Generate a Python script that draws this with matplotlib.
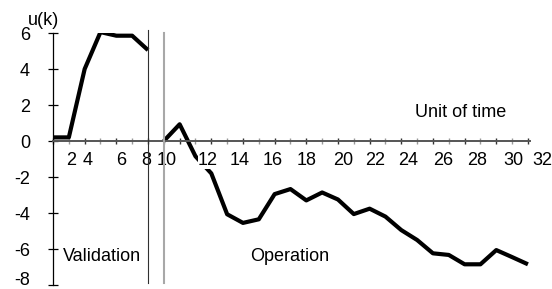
import matplotlib
matplotlib.use('Agg')
import matplotlib.pyplot as plt
from matplotlib.transforms import ScaledTranslation

plt.rcParams['font.family'] = ['Liberation Sans', 'DejaVu Sans']

# validation samples k = 1..7, operation samples k = 8..31
val_k = [1, 2, 3, 4, 5, 6, 7]
val_u = [0.2, 0.2, 4.0, 6.05, 5.85, 5.85, 5.05]

op_k = list(range(8, 32))
op_u = [0.0, 0.93, -0.85, -1.8, -4.07, -4.55, -4.35, -2.95, -2.67, -3.3,
        -2.86, -3.25, -4.06, -3.76, -4.2, -4.95, -5.5, -6.24, -6.33, -6.85,
        -6.85, -6.06, -6.45, -6.85]

y_ticks = [-8, -6, -4, -2, 0, 2, 4, 6]
x_labels = ['2', '4', '6', '8', '10', '12', '14', '16', '18', '20', '22',
            '24', '26', '28', '30', '32']
# where the labels sit along the sample axis in the original
x_label_pos = [2.14, 3.21, 5.29, 6.87, 8.2, 10.79, 12.81, 14.89, 17.04,
               19.32, 21.34, 23.43, 25.64, 27.79, 30.06, 31.89]

fs = 13

fig = plt.figure(figsize=(5.52, 2.89), dpi=100)
ax = fig.add_axes([53 / 552, 1 - 285 / 289, 477 / 552, 252 / 289])

ax.plot(val_k, val_u, color='black', lw=3.0, solid_capstyle='butt')
ax.plot(op_k, op_u, color='black', lw=3.0, solid_capstyle='butt')

ax.set_xlim(1, 31.13)
ax.set_ylim(-8, 6)

# split markers between validation and operation
ax.plot([val_k[-1], val_k[-1]], [-7.9, 6.17], color='#303030', lw=0.8,
        clip_on=False, zorder=3)
ax.plot([op_k[0], op_k[0]], [-7.9, 6.0], color='#a8a8a8', lw=1.5,
        clip_on=False, zorder=3)

for s in ['top', 'right']:
    ax.spines[s].set_visible(False)
ax.spines['left'].set_position(('data', 1))
ax.spines['left'].set_color('black')
ax.spines['left'].set_linewidth(0.9)
ax.spines['bottom'].set_position(('data', 0))
ax.spines['bottom'].set_color('#555555')
ax.spines['bottom'].set_linewidth(1.4)

ax.set_yticks(y_ticks)
ax.set_yticklabels([str(v) for v in y_ticks])
ax.tick_params(axis='y', direction='inout', length=7, width=0.9,
               colors='black', labelsize=fs, pad=13)
# lowest label sits at the figure edge, lift it a little
low = ax.get_yticklabels()[0]
low.set_transform(low.get_transform() + ScaledTranslation(0, 5 / 72, fig.dpi_scale_trans))

ax.set_xticks(range(1, 32, 2))
ax.set_xticks(range(2, 32, 2), minor=True)
ax.tick_params(axis='x', which='major', direction='inout', length=5,
               width=1.0, color='#333333', labelbottom=False)
ax.tick_params(axis='x', which='minor', direction='inout', length=5,
               width=1.0, color='#999999', labelbottom=False)

for lab, pos in zip(x_labels, x_label_pos):
    ax.text(pos, -1.08, lab, ha='center', va='center', fontsize=fs,
            clip_on=False, zorder=2,
            bbox=dict(facecolor='white', edgecolor='none', pad=0.3))

ax.text(0.37, 6.72, 'u(k)', ha='center', va='center', fontsize=fs,
        clip_on=False)
ax.text(26.77, 1.61, 'Unit of time', ha='center', va='center', fontsize=fs)
ax.text(1.63, -6.39, 'Validation', ha='left', va='center', fontsize=fs)
ax.text(15.97, -6.39, 'Operation', ha='center', va='center', fontsize=fs)

fig.savefig('out.png', dpi=100)
